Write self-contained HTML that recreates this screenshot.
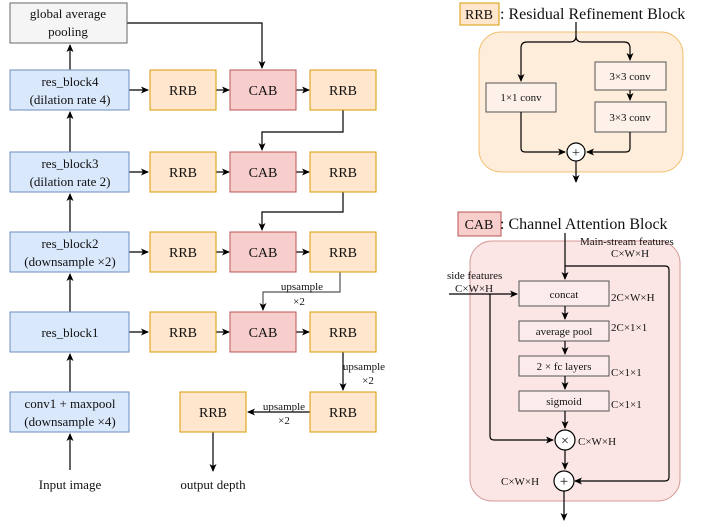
<!DOCTYPE html>
<html><head><meta charset="utf-8"><style>body{margin:0;background:#fff}svg{display:block}text{font-family:"Liberation Serif",serif;fill:#111}</style></head><body>
<svg width="708" height="531" viewBox="0 0 708 531" xmlns="http://www.w3.org/2000/svg">
<defs><marker id="a" markerWidth="8" markerHeight="8" refX="7" refY="4" orient="auto" markerUnits="userSpaceOnUse"><path d="M0,0.5 L8,4 L0,7.5 L2,4z" fill="#000"/></marker></defs>
<g stroke="#000" stroke-width="1.2" fill="none">
<!-- left column up arrows -->
<line x1="70" y1="470" x2="70" y2="434" marker-end="url(#a)"/>
<line x1="70" y1="392" x2="70" y2="354" marker-end="url(#a)"/>
<line x1="70" y1="312" x2="70" y2="274" marker-end="url(#a)"/>
<line x1="70" y1="232" x2="70" y2="194" marker-end="url(#a)"/>
<line x1="70" y1="152" x2="70" y2="112" marker-end="url(#a)"/>
<line x1="70" y1="70" x2="70" y2="45" marker-end="url(#a)"/>
<!-- row horizontals -->
<g>
<line x1="129" y1="90" x2="148" y2="90" marker-end="url(#a)"/><line x1="216" y1="90" x2="229" y2="90" marker-end="url(#a)"/><line x1="296" y1="90" x2="309" y2="90" marker-end="url(#a)"/>
<line x1="129" y1="172" x2="148" y2="172" marker-end="url(#a)"/><line x1="216" y1="172" x2="229" y2="172" marker-end="url(#a)"/><line x1="296" y1="172" x2="309" y2="172" marker-end="url(#a)"/>
<line x1="129" y1="252" x2="148" y2="252" marker-end="url(#a)"/><line x1="216" y1="252" x2="229" y2="252" marker-end="url(#a)"/><line x1="296" y1="252" x2="309" y2="252" marker-end="url(#a)"/>
<line x1="129" y1="332" x2="148" y2="332" marker-end="url(#a)"/><line x1="216" y1="332" x2="229" y2="332" marker-end="url(#a)"/><line x1="296" y1="332" x2="309" y2="332" marker-end="url(#a)"/>
</g>
<polyline points="127,23 262,23 262,68" marker-end="url(#a)"/>
<polyline points="343,110 343,132 262,132 262,150" marker-end="url(#a)"/>
<polyline points="343,192 343,212 262,212 262,230" marker-end="url(#a)"/>
<polyline points="340,272 340,292 263,292 263,310" stroke="#555" marker-end="url(#a)"/>
<line x1="343" y1="352" x2="343" y2="390" marker-end="url(#a)"/>
<line x1="310" y1="412" x2="248" y2="412" marker-end="url(#a)"/>
<line x1="213" y1="432" x2="213" y2="471" marker-end="url(#a)"/>
</g>
<!-- boxes -->
<g stroke-width="1">
<rect x="10" y="3" width="117" height="40" fill="#f5f5f5" stroke="#666"/>
<g fill="#dae8fc" stroke="#6c8ebf">
<rect x="10" y="70" width="119" height="40"/><rect x="10" y="152" width="119" height="40"/><rect x="10" y="232" width="119" height="40"/><rect x="10" y="312" width="119" height="40"/><rect x="10" y="392" width="119" height="40"/></g>
<g fill="#ffe6cc" stroke="#d79b00">
<rect x="150" y="70" width="66" height="40"/><rect x="310" y="70" width="66" height="40"/>
<rect x="150" y="152" width="66" height="40"/><rect x="310" y="152" width="66" height="40"/>
<rect x="150" y="232" width="66" height="40"/><rect x="310" y="232" width="66" height="40"/>
<rect x="150" y="312" width="66" height="40"/><rect x="310" y="312" width="66" height="40"/>
<rect x="310" y="392" width="66" height="40"/><rect x="180" y="392" width="66" height="40"/>
<rect x="460" y="3" width="39" height="22"/></g>
<g fill="#f8cecc" stroke="#b85450">
<rect x="230" y="70" width="66" height="40"/><rect x="230" y="152" width="66" height="40"/><rect x="230" y="232" width="66" height="40"/><rect x="230" y="312" width="66" height="40"/>
<rect x="458" y="212" width="43" height="24"/></g>
</g>
<g font-size="13" text-anchor="middle">
<text x="68" y="18">global average</text><text x="68" y="36">pooling</text>
<text x="70" y="86">res_block4</text><text x="70" y="104">(dilation rate 4)</text>
<text x="70" y="168">res_block3</text><text x="70" y="186">(dilation rate 2)</text>
<text x="70" y="248">res_block2</text><text x="70" y="266">(downsample ×2)</text>
<text x="70" y="337">res_block1</text>
<text x="70" y="408">conv1 + maxpool</text><text x="70" y="426">(downsample ×4)</text>
<text x="70" y="489">Input image</text><text x="213" y="489">output depth</text>
<g font-size="14"><text x="183" y="95">RRB</text><text x="263" y="95">CAB</text><text x="343" y="95">RRB</text>
<text x="183" y="177">RRB</text><text x="263" y="177">CAB</text><text x="343" y="177">RRB</text>
<text x="183" y="257">RRB</text><text x="263" y="257">CAB</text><text x="343" y="257">RRB</text>
<text x="183" y="337">RRB</text><text x="263" y="337">CAB</text><text x="343" y="337">RRB</text>
<text x="343" y="417">RRB</text><text x="213" y="417">RRB</text>
<text x="479" y="19">RRB</text><text x="479" y="229">CAB</text></g>
<g font-size="11"><text x="302" y="290">upsample</text><text x="299" y="305">×2</text>
<text x="364" y="370">upsample</text><text x="368" y="384">×2</text>
<text x="284" y="410">upsample</text><text x="284" y="424">×2</text></g>
</g>
<text x="500" y="19" font-size="16">: Residual Refinement Block</text>
<text x="500" y="229" font-size="16">: Channel Attention Block</text>
<!-- RRB detail -->
<rect x="479" y="32" width="204" height="140" rx="22" fill="#ffe6cc" fill-opacity="0.7" stroke="#f0c070"/>
<g fill="#fdf1ea" stroke="#555"><rect x="486" y="83" width="70" height="29"/><rect x="595" y="62" width="71" height="28"/><rect x="595" y="102" width="71" height="30"/></g>
<g font-size="11" text-anchor="middle"><text x="521" y="101">1×1 conv</text><text x="630" y="80">3×3 conv</text><text x="630" y="121">3×3 conv</text></g>
<g stroke="#000" stroke-width="1.2" fill="none">
<path d="M576,22 V36 Q576,42 570,42 H527 Q521,42 521,48 V81" marker-end="url(#a)"/>
<path d="M576,36 Q576,42 582,42 H624 Q630,42 630,48 V60" marker-end="url(#a)"/>
<line x1="630" y1="90" x2="630" y2="100" marker-end="url(#a)"/>
<path d="M521,112 V148 Q521,152 525,152 H565" marker-end="url(#a)"/>
<path d="M630,132 V148 Q630,152 626,152 H587" marker-end="url(#a)"/>
<circle cx="576" cy="152" r="9" fill="#fff"/>
<line x1="576" y1="161" x2="576" y2="182" marker-end="url(#a)"/>
</g>
<text x="576" y="157" font-size="14" text-anchor="middle">+</text>
<!-- CAB detail -->
<rect x="470" y="241" width="210" height="260" rx="22" fill="#f8cecc" fill-opacity="0.5" stroke="#d49a98"/>
<g fill="#fbeceb" stroke="#555"><rect x="519" y="281" width="90" height="25"/><rect x="519" y="321" width="90" height="20"/><rect x="519" y="356" width="90" height="20"/><rect x="519" y="391" width="90" height="20"/></g>
<g font-size="11" text-anchor="middle"><text x="564" y="298">concat</text><text x="564" y="335">average pool</text><text x="564" y="370">2 × fc layers</text><text x="564" y="405">sigmoid</text></g>
<g stroke="#000" stroke-width="1.2" fill="none">
<line x1="565" y1="233" x2="565" y2="279" marker-end="url(#a)"/>
<path d="M565,266 H665 Q669,266 669,270 V477 Q669,481 665,481 H575" marker-end="url(#a)"/>
<line x1="449" y1="294" x2="517" y2="294" marker-end="url(#a)"/>
<path d="M490,294 V436 Q490,440 494,440 H553" marker-end="url(#a)"/>
<line x1="565" y1="306" x2="565" y2="319" marker-end="url(#a)"/>
<line x1="565" y1="341" x2="565" y2="354" marker-end="url(#a)"/>
<line x1="565" y1="376" x2="565" y2="389" marker-end="url(#a)"/>
<line x1="565" y1="411" x2="565" y2="428" marker-end="url(#a)"/>
<line x1="565" y1="450" x2="565" y2="469" marker-end="url(#a)"/>
<circle cx="565" cy="440" r="10" fill="#fff"/>
<circle cx="564" cy="481" r="10" fill="#fff"/>
<line x1="564" y1="491" x2="564" y2="520" marker-end="url(#a)"/>
</g>
<text x="565" y="445" font-size="14" text-anchor="middle">×</text>
<text x="564" y="486" font-size="15" text-anchor="middle">+</text>
<g font-size="11">
<text x="580" y="245">Main-stream features</text><text x="611" y="257">C×W×H</text>
<text x="447" y="279">side features</text><text x="455" y="292">C×W×H</text>
<text x="611" y="301">2C×W×H</text><text x="611" y="331">2C×1×1</text>
<text x="611" y="376">C×1×1</text><text x="611" y="408">C×1×1</text>
<text x="578" y="445">C×W×H</text><text x="501" y="485">C×W×H</text>
</g>
</svg>
</body></html>
